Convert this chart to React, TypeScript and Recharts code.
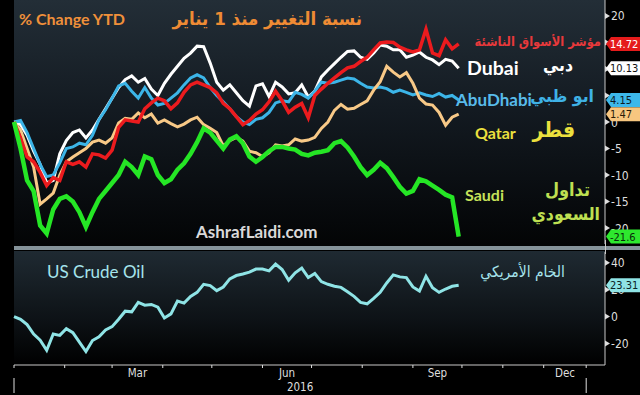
import React from 'react';
import { LineChart, Line, XAxis, YAxis } from 'recharts';

// calendar day of 2016 (0 = Jan 1), one reading every 4 days
const days = [
  0, 4, 8, 12, 16, 20, 24, 28, 32, 36, 40, 44, 48, 52, 56, 60, 64, 68, 72, 76, 80, 84, 88,
  92, 96, 100, 104, 108, 112, 116, 120, 124, 128, 132, 136, 140, 144, 148, 152, 156, 160,
  164, 168, 172, 176, 180, 184, 188, 192, 196, 200, 204, 208, 212, 216, 220, 224, 228, 232,
  236, 240, 244, 248, 252, 256, 260, 264, 268, 272,
];

// % change YTD
const emergingMarkets = [
  0, -3, -6.6, -7.5, -9.5, -12, -10.5, -11, -7.5, -8, -7.5, -8.5, -6, -6.2, -6.8, -5.3, -1,
  0.4, 0.2, 0, 2.5, 3.6, 4.5, 4, 2.5, 3.6, 5.6, 7, 7.5, 7, 6.5, 5.5, 3.5, 2.5, 1, -0.5, 0.3,
  1.5, 2.3, 3.8, 5.8, 4, 1.8, 2.8, 3.5, 0.8, 5, 6.2, 7.3, 8.3, 9.3, 10.2, 10.5, 11.4, 12.2,
  13.6, 14.9, 15.1, 15, 14.1, 13.6, 13.2, 13.6, 17.5, 13, 12.5, 15.5, 13.8, 14.72,
];
const dubai = [
  0, -0.5, -2.5, -5.5, -8, -11.5, -11, -6, -3.5, -2, -1.5, -3, -1.5, 0.5, 2.5, 4.5, 6.5, 8,
  8.7, 7.5, 8.2, 6.2, 5, 7.3, 9, 10.5, 12, 13, 14.3, 14.2, 11.1, 7.5, 6, 7, 5.5, 4, 3, 6.8,
  7.2, 4.8, 7.5, 6.6, 5.3, 5.5, 7, 4.7, 5.8, 8.5, 9.8, 11, 12.2, 13.3, 13.4, 12.2, 11.8, 13,
  14.5, 14.3, 13.6, 13.6, 12.2, 12.6, 13.2, 12.2, 11.7, 10.8, 11.8, 11.5, 10.13,
];
const abuDhabi = [
  0, 0.3, -2, -5, -8, -10.3, -10, -7.7, -5, -4.7, -4, -4.3, -2.5, 0.5, 2.3, 4.5, 6.8, 7.3,
  5.8, 4.5, 6.5, 4.5, 3.2, 3.5, 4.5, 5.5, 7, 8.3, 8.9, 8.3, 6.5, 5, 3.8, 2.5, 1, 0, -0.5, 0.5,
  0.8, 1.8, 3.6, 4, 3.8, 5.6, 5.2, 4.5, 5.8, 7.5, 7.3, 7.5, 7.9, 8.3, 8.1, 7.3, 6.6, 6.4, 6.6,
  6.3, 5.6, 6, 5.6, 5.1, 5.5, 5.1, 4.8, 5.4, 4.7, 5, 4.15,
];
const qatar = [
  0, -1.5, -5, -8.5, -15.5, -14.5, -13.4, -10, -7.5, -6.6, -5.8, -5, -3.8, -3.4, -4, -3, -0.2,
  0.7, 0.5, 1.7, 0.8, 1.5, -0.2, 0.4, -0.3, -0.9, -0.4, 0.4, 0.9, -0.5, -1.2, -2, -4.5, -3.5,
  -2.9, -3.6, -5.5, -5.8, -6.5, -5.8, -4.3, -4.5, -4.3, -3.2, -3.6, -3.4, -2.9, -1.2, 0, 2.2,
  3.3, 2.4, 2.6, 3.3, 4, 6, 7.6, 10.5, 9.4, 8.5, 9.3, 7.3, 4.5, 3.4, 3.2, 1.8, -0.6, 0.9, 1.47,
];
const saudi = [
  0, -5, -11, -13, -19.5, -21, -16.5, -14.5, -14, -15, -17, -19.8, -17, -14.5, -13, -11.5, -10,
  -7.5, -8.5, -10, -6.5, -7, -10, -11.5, -10.8, -9, -7.8, -6, -3.8, -1.2, -2, -3.5, -5, -3.3,
  -2.7, -4, -6.5, -7.5, -6.6, -5.5, -4.7, -4.7, -5, -5.2, -6, -6.3, -5.8, -5.6, -5.3, -4, -3.6,
  -4.8, -6.5, -8.5, -10, -9, -7.7, -8.7, -10.4, -12.2, -13.5, -13, -10.8, -11.2, -12, -12.8,
  -13.7, -14.2, -21.6,
];
const usCrude = [
  0, -2, -6, -13, -17.5, -25, -13, -14, -9, -12, -19, -26, -17.8, -15, -10, -7.5, -2, 4, 3.5,
  10.5, 8.5, 9, 7, -1, 2, 11.5, 10, 15, 18, 24, 23, 19.3, 22, 28, 30.5, 31.6, 33, 35.3, 35.3,
  34, 39, 35, 27, 32.5, 36, 29, 32, 26, 24, 22.5, 21.7, 18.5, 15, 10.5, 9.5, 13.5, 18, 25, 31,
  29.5, 29, 22, 19, 30, 21.5, 18, 20.5, 22.5, 23.31,
];

const topTicks = [-20, -15, -10, -5, 0, 5, 10, 15, 20];
const oilTicks = [-20, 0, 20, 40];

// month boundaries on the axis (future months are drawn narrower on the original)
const monthStarts = [0, 31, 60, 91, 121, 152, 182, 213, 244, 274, 299, 324, 350];
const monthNames = ['Jan', 'Feb', 'Mar', 'Apr', 'May', 'Jun', 'Jul', 'Aug', 'Sep', 'Oct', 'Nov', 'Dec'];
const shownMonths = ['Mar', 'Jun', 'Sep', 'Dec'];
const yearName = '2016';

const indexRows = days.map((day, i) => ({
  day,
  em: emergingMarkets[i],
  dubai: dubai[i],
  abuDhabi: abuDhabi[i],
  qatar: qatar[i],
  saudi: saudi[i],
}));
const oilRows = days.map((day, i) => ({ day, oil: usCrude[i] }));

const last = (a: number[]) => a[a.length - 1];

type TagStyle = { text: string; fill: string; ink: string };

// last-value tags that sit on the right axis
const topTags = new Map<number, TagStyle>([
  [last(emergingMarkets), { text: '14.72', fill: '#e51b1b', ink: '#ffffff' }],
  [last(dubai), { text: '10.13', fill: '#ffffff', ink: '#111111' }],
  [last(abuDhabi), { text: '4.15', fill: '#3db8ea', ink: '#0b1a24' }],
  [last(qatar), { text: '1.47', fill: '#f7c67f', ink: '#2a1c08' }],
  [last(saudi), { text: '-21.6', fill: '#2ee82e', ink: '#0a2a0a' }],
]);
const oilTags = new Map<number, TagStyle>([
  [last(usCrude), { text: '23.31', fill: '#8fe4e6', ink: '#0b2224' }],
]);

const labelAt = new Map<number, string>();
shownMonths.forEach((m) => {
  const i = monthNames.indexOf(m);
  labelAt.set((monthStarts[i] + monthStarts[i + 1]) / 2, m);
});
const yearMid = (monthStarts[0] + monthStarts[monthStarts.length - 1]) / 2;
const bottomTicks = [...monthStarts, ...labelAt.keys(), yearMid].sort((a, b) => a - b);

const X_DOMAIN: [number, number] = [0, 361.5];
const AXIS_FONT = '"DejaVu Sans Condensed", "DejaVu Sans", sans-serif';
const AXIS_INK = '#dedede';

// tick labels that a tag sits right on top of are hidden, as on the original
function makeRightTick(tags: Map<number, TagStyle>, hideWithin: number) {
  return (props: any) => {
    const { x, y, payload } = props;
    const t = tags.get(payload.value);
    if (t) {
      return (
        <g>
          <path d={`M${x + 1} ${y} L${x + 6} ${y - 7} H${x + 40} V${y + 7} H${x + 6} Z`} fill={t.fill} />
          <text x={x + 5} y={y + 4} fill={t.ink} fontSize={11} fontFamily={AXIS_FONT}>
            {t.text}
          </text>
        </g>
      );
    }
    const covered = [...tags.keys()].some((k) => Math.abs(k - payload.value) < hideWithin);
    return (
      <g>
        <path d={`M${x} ${y - 3} L${x + 5} ${y} L${x} ${y + 3} Z`} fill={AXIS_INK} />
        {!covered && (
          <text x={x + 6} y={y + 4.5} fill={AXIS_INK} fontSize={12} fontFamily={AXIS_FONT}>
            {payload.value}
          </text>
        )}
      </g>
    );
  };
}

function BottomTick(props: any) {
  const { x, y, payload } = props;
  const v = payload.value;
  if (monthStarts.includes(v)) {
    const isYear = v === monthStarts[0] || v === monthStarts[monthStarts.length - 1];
    return (
      <g>
        <line x1={x} x2={x} y1={y} y2={y + 3} stroke={AXIS_INK} />
        {isYear && <line x1={x} x2={x} y1={y + 13} y2={y + 28} stroke={AXIS_INK} />}
      </g>
    );
  }
  const txt = v === yearMid ? yearName : labelAt.get(v);
  return (
    <text
      x={x}
      y={v === yearMid ? y + 26 : y + 12}
      textAnchor="middle"
      fill={AXIS_INK}
      fontSize={11.5}
      fontFamily={AXIS_FONT}
    >
      {txt}
    </text>
  );
}

function Note(props: {
  text: string;
  x: number;
  y: number;
  size: number;
  color: string;
  end?: boolean;
  bold?: boolean;
  arabic?: boolean;
}) {
  const { text, x, y, size, color, end, bold = true, arabic } = props;
  const style: React.CSSProperties = {
    position: 'absolute',
    top: y - size * 0.62,
    fontSize: size,
    lineHeight: `${size * 1.25}px`,
    color,
    fontWeight: bold ? 700 : 400,
    fontFamily: arabic
      ? '"DejaVu Sans Condensed", "DejaVu Sans", sans-serif'
      : 'Lato, "Open Sans", sans-serif',
    whiteSpace: 'nowrap',
  };
  if (end) style.right = 640 - x;
  else style.left = x;
  return (
    <div style={style} dir={arabic ? 'rtl' : 'ltr'}>
      {text}
    </div>
  );
}

const TopTick = makeRightTick(topTags, 1);
const OilTick = makeRightTick(oilTags, 3);

export default function App() {
  return (
    <div
      style={{
        position: 'fixed',
        left: 0,
        top: 0,
        width: 640,
        height: 395,
        background: '#000',
        overflow: 'hidden',
      }}
    >
      <div
        style={{
          position: 'absolute',
          left: 14,
          top: 0,
          width: 591,
          height: 246,
          background: 'linear-gradient(to bottom, #232e37 0%, #131a21 45%, #030405 100%)',
        }}
      />
      <div
        style={{
          position: 'absolute',
          left: 14,
          top: 251,
          width: 591,
          height: 114,
          background: 'linear-gradient(to bottom, #1f2a32 0%, #0d1216 60%, #000 100%)',
        }}
      />
      <div style={{ position: 'absolute', left: 14, top: 246, width: 626, height: 4, background: '#85939a' }} />
      <div style={{ position: 'absolute', left: 605, top: 240, width: 1, height: 14, background: '#c8c8c8' }} />

      <div style={{ position: 'absolute', left: 0, top: 0 }}>
        <LineChart width={640} height={244} data={indexRows} margin={{ top: 0, right: 0, bottom: 0, left: 14 }}>
          <XAxis dataKey="day" type="number" domain={X_DOMAIN} hide />
          <YAxis
            orientation="right"
            width={35}
            domain={[-23, 23]}
            ticks={[...topTicks, ...topTags.keys()]}
            interval={0}
            axisLine={{ stroke: '#c8c8c8' }}
            tickLine={false}
            tickSize={0}
            tickMargin={0}
            tick={<TopTick />}
          />
          <Line dataKey="dubai" stroke="#ffffff" strokeWidth={3} dot={false} isAnimationActive={false} />
          <Line dataKey="abuDhabi" stroke="#3cb5e8" strokeWidth={3} dot={false} isAnimationActive={false} />
          <Line dataKey="qatar" stroke="#f8c987" strokeWidth={3} dot={false} isAnimationActive={false} />
          <Line dataKey="em" stroke="#ec1b1e" strokeWidth={3.5} dot={false} isAnimationActive={false} />
          <Line dataKey="saudi" stroke="#25e625" strokeWidth={4.5} dot={false} isAnimationActive={false} />
        </LineChart>
      </div>

      <div style={{ position: 'absolute', left: 0, top: 252 }}>
        <LineChart width={640} height={143} data={oilRows} margin={{ top: 0, right: 0, bottom: 0, left: 14 }}>
          <XAxis
            dataKey="day"
            type="number"
            domain={X_DOMAIN}
            ticks={bottomTicks}
            interval={0}
            height={30}
            axisLine={{ stroke: '#c8c8c8' }}
            tickLine={false}
            tickSize={0}
            tickMargin={0}
            tick={<BottomTick />}
          />
          <YAxis
            orientation="right"
            width={35}
            domain={[-36, 48]}
            ticks={[...oilTicks, ...oilTags.keys()]}
            interval={0}
            axisLine={{ stroke: '#c8c8c8' }}
            tickLine={false}
            tickSize={0}
            tickMargin={0}
            tick={<OilTick />}
          />
          <Line dataKey="oil" stroke="#8fe4e6" strokeWidth={3} dot={false} isAnimationActive={false} />
        </LineChart>
      </div>

      <Note text="% Change YTD" x={19} y={19} size={16} color="#f0903a" />
      <Note text="نسبة التغيير منذ 1 يناير" x={362} y={18} size={18.5} color="#ef8b34" end arabic />
      <Note text="مؤشر الأسواق الناشئة" x={601} y={42} size={12.8} color="#e8393b" end arabic />
      <Note text="Dubai" x={467} y={68} size={19.5} color="#ffffff" />
      <Note text="دبي" x={573} y={66} size={17.5} color="#ffffff" end arabic />
      <Note text="AbuDhabi" x={456} y={100} size={17} color="#58bbea" />
      <Note text="ابو ظبي" x={594} y={97} size={17.5} color="#3fb2e6" end arabic />
      <Note text="Qatar" x={475} y={133} size={16} color="#ece03e" />
      <Note text="قطر" x={575} y={130} size={21} color="#ece03e" end arabic />
      <Note text="Saudi" x={465} y={195} size={16} color="#c6e25a" />
      <Note text="تداول" x={590} y={190} size={18} color="#bfe052" end arabic />
      <Note text="السعودي" x={600} y={215} size={17.5} color="#bfe052" end arabic />
      <Note text="AshrafLaidi.com" x={196} y={232} size={17} color="#d9d9d9" />
      <Note text="US Crude Oil" x={47} y={272} size={17} color="#a6e4ec" bold={false} />
      <Note text="الخام الأمريكي" x={565} y={273} size={15.5} color="#a6e4ec" end arabic bold={false} />
    </div>
  );
}
